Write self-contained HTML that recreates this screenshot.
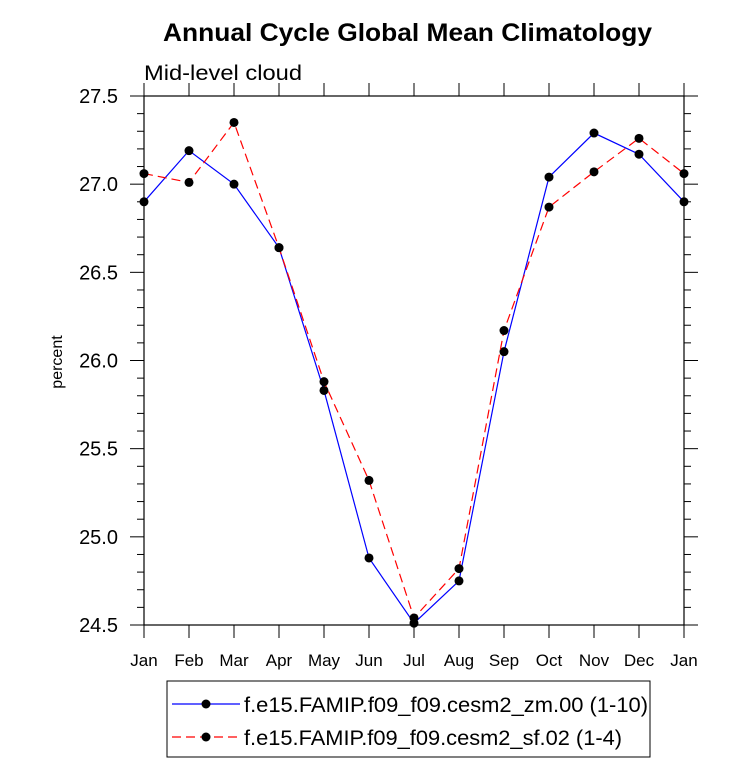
<!DOCTYPE html>
<html><head><meta charset="utf-8"><style>
body{margin:0;background:#fff;font-family:"Liberation Sans",sans-serif}
</style></head><body>
<svg id="chart" width="733" height="761" xmlns="http://www.w3.org/2000/svg" font-family="Liberation Sans, sans-serif">
<text x="163" y="41" font-size="25" font-weight="bold" textLength="489" lengthAdjust="spacingAndGlyphs">Annual Cycle Global Mean Climatology</text>
<text x="144" y="80" font-size="21" textLength="158" lengthAdjust="spacingAndGlyphs">Mid-level cloud</text>
<text transform="translate(62,362) rotate(-90)" text-anchor="middle" font-size="16">percent</text>
<g id="axes"></g>
<g id="series"></g>
<g>
<rect x="167" y="681" width="483" height="76" fill="none" stroke="#000" stroke-width="1"/>
<line x1="172" y1="704" x2="240" y2="704" stroke="#0000ff" stroke-width="1.2"/>
<circle cx="206" cy="704" r="4.5" fill="#000"/>
<text x="244" y="712" font-size="21" textLength="404" lengthAdjust="spacingAndGlyphs">f.e15.FAMIP.f09_f09.cesm2_zm.00 (1-10)</text>
<line x1="172" y1="737" x2="240" y2="737" stroke="#ff0000" stroke-width="1.2" stroke-dasharray="9,5"/>
<circle cx="206" cy="737" r="4.5" fill="#000"/>
<text x="244" y="745" font-size="21" textLength="378" lengthAdjust="spacingAndGlyphs">f.e15.FAMIP.f09_f09.cesm2_sf.02 (1-4)</text>
</g>
</svg>
<script>
const months=["Jan","Feb","Mar","Apr","May","Jun","Jul","Aug","Sep","Oct","Nov","Dec","Jan"];
const yTicks=[24.5,25.0,25.5,26.0,26.5,27.0,27.5];
const blueVals=[26.90,27.19,27.00,26.64,25.83,24.88,24.51,24.75,26.05,27.04,27.29,27.17,26.90];
const redVals=[27.06,27.01,27.35,26.64,25.88,25.32,24.54,24.82,26.17,26.87,27.07,27.26,27.06];
const X0=144,X1=684,Y0=625,Y1=96,ymin=24.5,ymax=27.5;
const xs=i=>X0+i*(X1-X0)/(months.length-1);
const ys=v=>Y0-(v-ymin)/(ymax-ymin)*(Y0-Y1);
const NS="http://www.w3.org/2000/svg";
function mk(t,a,p){const e=document.createElementNS(NS,t);for(const k in a)e.setAttribute(k,a[k]);p.appendChild(e);return e;}
const ax=document.getElementById('axes');
const frame=mk('rect',{x:X0,y:Y1,width:X1-X0,height:Y0-Y1,fill:'none',stroke:'#000','stroke-width':1.2},ax);


months.forEach((m,i)=>{const x=xs(i);
mk('line',{x1:x,y1:Y0,x2:x,y2:Y0+13,stroke:'#000'},ax);
mk('line',{x1:x,y1:Y1,x2:x,y2:Y1-13,stroke:'#000'},ax);
const t=mk('text',{x:x,y:Y0+41,'text-anchor':'middle','font-size':17},ax);t.textContent=m;

});
for(let v=ymin;v<=ymax+1e-6;v+=0.1){const y=ys(v);const major=Math.abs(v*2-Math.round(v*2))<1e-6;const L=major?14:7;
mk('line',{x1:X0,y1:y,x2:X0-L,y2:y,stroke:'#000'},ax);mk('line',{x1:X1,y1:y,x2:X1+L,y2:y,stroke:'#000'},ax);}
yTicks.forEach(v=>{const t=mk('text',{x:X0-26,y:ys(v)+7,'text-anchor':'end','font-size':20},ax);t.textContent=v.toFixed(1);

});
const sg=document.getElementById('series');
function series(vals,color,dash,name){
const p=mk('polyline',{points:vals.map((v,i)=>xs(i)+','+ys(v)).join(' '),fill:'none',stroke:color,'stroke-width':1.2,'stroke-dasharray':dash},sg);


vals.forEach((v,i)=>{const c=mk('circle',{cx:xs(i),cy:ys(v),r:4.5,fill:'#000'},sg);

});}
series(blueVals,'#0000ff','none','zm00');
series(redVals,'#ff0000','9,5','sf02');
</script>
</body></html>
